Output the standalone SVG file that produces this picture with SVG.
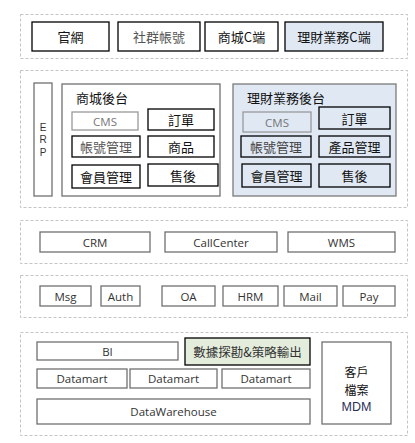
<svg xmlns="http://www.w3.org/2000/svg" width="415" height="443" viewBox="0 0 415 443">
<style>
.layer{fill:none;stroke:#c4c4c4;stroke-width:1;stroke-dasharray:3,2}
.b{fill:#fff;stroke:#000;stroke-width:1.3}
.g{fill:#fff;stroke:#707070;stroke-width:1.3}
.bl{fill:#dfe8f3;stroke:#000;stroke-width:1.3}
.blg{fill:#dfe8f3;stroke:#7a7a7a;stroke-width:1.3}
.t{font-family:"Noto Sans CJK TC","Noto Sans",sans-serif;font-size:13px;fill:#111;text-anchor:middle;dominant-baseline:central}
.s{font-family:"Open Sans","Noto Sans",sans-serif;font-size:11.5px;fill:#333;text-anchor:middle;dominant-baseline:central}
.e{font-family:"Liberation Sans",Arial,sans-serif;font-size:10px;fill:#333;text-anchor:middle;dominant-baseline:central}
.gr{fill:#777}
</style>
<rect width="415" height="443" fill="#fff"/>
<g id="layers">
<rect class="layer" x="20.5" y="14.5" width="387" height="44"/>
<rect class="layer" x="20.5" y="70.5" width="387" height="137"/>
<rect class="layer" x="20.5" y="220.5" width="387" height="43"/>
<rect class="layer" x="20.5" y="275.5" width="387" height="42"/>
<rect class="layer" x="20.5" y="332.5" width="387" height="103"/>
</g>
<g id="n-guanwang"><rect class="b" x="32" y="22" width="77" height="29"/><text class="t" x="70.5" y="36.5">官網</text></g>
<g id="n-shequn"><rect class="b" x="118" y="22" width="82" height="29"/><text class="t" x="159" y="36.5" style="fill:#555">社群帳號</text></g>
<g id="n-shangcheng-c"><rect class="b" x="205" y="22" width="73" height="29"/><text class="t" x="241.5" y="36.5">商城C端</text></g>
<g id="n-licai-c"><rect class="bl" x="285" y="22" width="98" height="29"/><text class="t" x="334" y="36.5">理財業務C端</text></g>

<g id="n-erp"><rect class="g" x="34" y="83" width="18" height="113"/>
<text class="e" x="43" y="127">E</text><text class="e" x="43" y="139.5">R</text><text class="e" x="43" y="152">P</text></g>

<g id="n-shangcheng-ht"><rect class="g" x="62" y="84" width="158" height="112"/>
<text class="t" x="76" y="97" style="text-anchor:start">商城後台</text>
<rect class="g" x="72" y="112" width="66" height="18" style="stroke:#999"/><text class="s gr" x="105" y="121">CMS</text>
<rect class="b" x="148" y="109" width="66" height="21"/><text class="t" x="181" y="119.5">訂單</text>
<rect class="b" x="72" y="136" width="68" height="21"/><text class="t" x="106" y="146.5" style="fill:#555">帳號管理</text>
<rect class="b" x="148" y="136" width="66" height="21"/><text class="t" x="181" y="146.5">商品</text>
<rect class="b" x="72" y="165" width="68" height="23"/><text class="t" x="106" y="176.5">會員管理</text>
<rect class="b" x="148" y="164" width="70" height="22"/><text class="t" x="183" y="175">售後</text>
</g>

<g id="n-licai-ht"><rect class="blg" x="233" y="84" width="163" height="112"/>
<text class="t" x="247" y="97" style="text-anchor:start">理財業務後台</text>
<rect class="blg" x="243" y="112" width="68" height="20" style="stroke:#999"/><text class="s gr" x="277" y="122">CMS</text>
<rect class="bl" x="319" y="107" width="71" height="22"/><text class="t" x="354.5" y="118">訂單</text>
<rect class="bl" x="241" y="136" width="70" height="21"/><text class="t" x="276" y="146.5" style="fill:#444">帳號管理</text>
<rect class="bl" x="319" y="136" width="71" height="21"/><text class="t" x="354.5" y="146.5">產品管理</text>
<rect class="bl" x="242" y="164" width="69" height="23"/><text class="t" x="276.5" y="175.5">會員管理</text>
<rect class="bl" x="319" y="164" width="71" height="23"/><text class="t" x="354.5" y="175.5">售後</text>
</g>

<g id="n-crm"><rect class="g" x="40" y="232" width="110" height="20"/><text class="s" x="95" y="242">CRM</text></g>
<g id="n-callcenter"><rect class="g" x="165" y="232" width="112" height="20"/><text class="s" x="221" y="242">CallCenter</text></g>
<g id="n-wms"><rect class="g" x="288" y="232" width="107" height="20"/><text class="s" x="341.5" y="242">WMS</text></g>

<g id="n-msg"><rect class="g" x="40" y="286" width="51" height="20"/><text class="s" x="65.5" y="296">Msg</text></g>
<g id="n-auth"><rect class="g" x="101" y="286" width="39" height="20"/><text class="s" x="120.5" y="296">Auth</text></g>
<g id="n-oa"><rect class="g" x="162" y="286" width="53" height="20"/><text class="s" x="188.5" y="296">OA</text></g>
<g id="n-hrm"><rect class="g" x="223" y="286" width="55" height="20"/><text class="s" x="250.5" y="296">HRM</text></g>
<g id="n-mail"><rect class="g" x="284" y="286" width="53" height="20"/><text class="s" x="310.5" y="296">Mail</text></g>
<g id="n-pay"><rect class="g" x="343" y="286" width="52" height="20"/><text class="s" x="369" y="296">Pay</text></g>

<g id="n-bi"><rect class="g" x="37" y="342" width="141" height="18"/><text class="s" x="107.5" y="351">BI</text></g>
<g id="n-mining"><rect class="b" x="185" y="338" width="125" height="27" style="fill:#e4eddc"/><text class="t" x="247.5" y="351.5" style="font-size:12.5px;fill:#333">數據探勘&amp;策略輸出</text></g>
<g id="n-dm1"><rect class="g" x="37" y="369" width="90" height="19"/><text class="s" x="82" y="378.5">Datamart</text></g>
<g id="n-dm2"><rect class="g" x="130" y="369" width="87" height="19"/><text class="s" x="173.5" y="378.5">Datamart</text></g>
<g id="n-dm3"><rect class="g" x="222" y="369" width="88" height="19"/><text class="s" x="266" y="378.5">Datamart</text></g>
<g id="n-dw"><rect class="g" x="37" y="399" width="273" height="25"/><text class="s" x="173.5" y="411.5">DataWarehouse</text></g>
<g id="n-mdm"><rect class="g" x="322" y="342" width="69" height="82"/>
<text class="t" x="356.5" y="371" style="font-size:12px">客戶</text>
<text class="t" x="356.5" y="389" style="font-size:12px">檔案</text>
<text class="t" x="356.5" y="407" style="font-family:'Liberation Sans',sans-serif;font-size:12.5px;fill:#2a2f5a">MDM</text></g>
<g id="connectors"></g>
</svg>
